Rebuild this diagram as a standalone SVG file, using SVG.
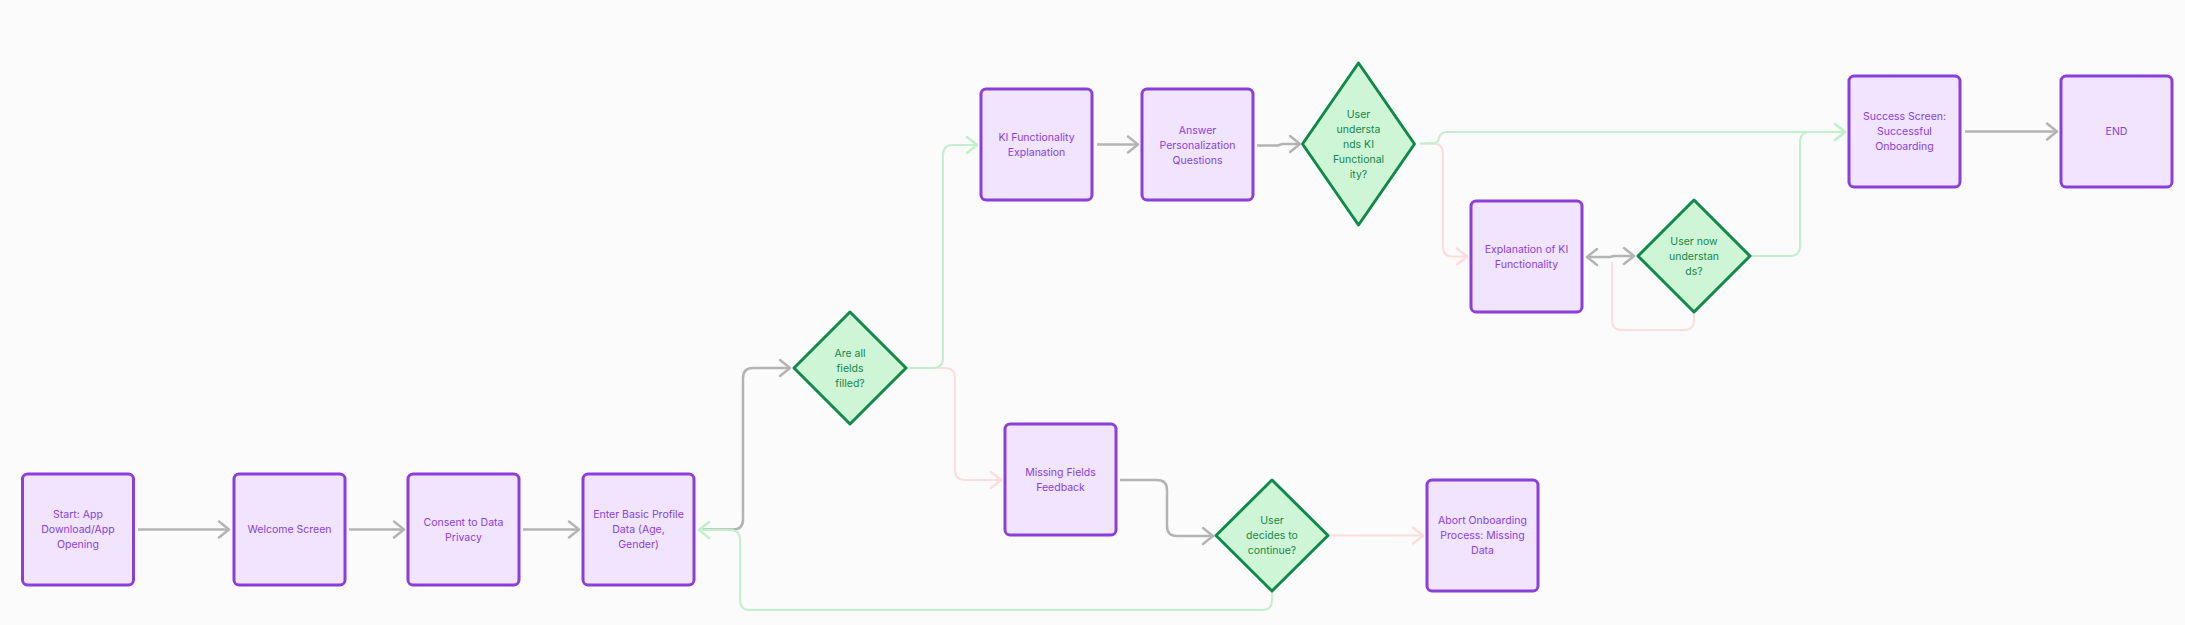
<svg xmlns="http://www.w3.org/2000/svg" width="2185" height="625" viewBox="0 0 2185 625">
<defs>
<style>
.box{fill:#f0e4fe;stroke:#8a3fdb;stroke-width:3}
.dia{fill:#cdf5d6;stroke:#108a4b;stroke-width:3;stroke-linejoin:round}
.bt{font-family:Inter,"Liberation Sans",sans-serif;font-size:10.5px;fill:#8a3fdb;text-anchor:middle;dominant-baseline:central}
.dt{font-family:Inter,"Liberation Sans",sans-serif;font-size:10.5px;fill:#16884a;text-anchor:middle;dominant-baseline:central}
.g{fill:none;stroke:#b4b4b4;stroke-width:2.5;marker-end:url(#ag)}
.gr{fill:none;stroke:#c2f0cd;stroke-width:2;marker-end:url(#agr)}
.pk{fill:none;stroke:#fddcdc;stroke-width:2;marker-end:url(#apk)}
</style>
<marker id="ag" viewBox="-12 -10 14 20" markerWidth="14" markerHeight="20" refX="0" refY="0" orient="auto-start-reverse" markerUnits="userSpaceOnUse"><path d="M-10,-8 L0,0 L-10,8" fill="none" stroke="#b4b4b4" stroke-width="2.5" stroke-linecap="round" stroke-linejoin="round"/></marker>
<marker id="agr" viewBox="-12 -10 14 20" markerWidth="14" markerHeight="20" refX="0" refY="0" orient="auto-start-reverse" markerUnits="userSpaceOnUse"><path d="M-10,-8 L0,0 L-10,8" fill="none" stroke="#c2f0cd" stroke-width="2.5" stroke-linecap="round" stroke-linejoin="round"/></marker>
<marker id="apk" viewBox="-12 -10 14 20" markerWidth="14" markerHeight="20" refX="0" refY="0" orient="auto-start-reverse" markerUnits="userSpaceOnUse"><path d="M-10,-8 L0,0 L-10,8" fill="none" stroke="#fddcdc" stroke-width="2.5" stroke-linecap="round" stroke-linejoin="round"/></marker>
</defs>
<rect x="0" y="0" width="2185" height="625" fill="#fbfbfb"/>

<g id="connectors">
<path class="g" d="M138,529.5 H229"/>
<path class="g" d="M349,529.5 H404"/>
<path class="g" d="M523,529.5 H579"/>
<path class="g" d="M699,529.5 H733 Q743,529.5 743,519.5 V378 Q743,368 753,368 H790"/>
<path class="gr" d="M1272,592 V600 Q1272,610 1262,610 H750 Q740,610 740,600 V540 Q740,530 730,530 H699"/>
<path class="pk" d="M906,368 H945 Q955,368 955,378 V470 Q955,480 965,480 H1001"/>
<path class="gr" d="M906,368 H933 Q943,368 943,358 V155 Q943,145 953,145 H977"/>
<path class="g" d="M1097,144.5 H1138"/>
<path class="g" d="M1257,145.5 H1278 L1282,144 H1300"/>
<path class="pk" d="M1420,143.5 H1433 Q1443,143.5 1443,153.5 V246.5 Q1443,256.5 1453,256.5 H1467"/>
<path class="gr" d="M1420,143.5 H1432 Q1438,143.5 1439,138 Q1440,132 1447,132 H1845"/>
<path class="pk" style="marker-end:none" d="M1694,312 V320 Q1694,330 1684,330 H1622 Q1612,330 1612,320 V262"/>
<path class="g" style="marker-start:url(#ag)" d="M1587,257 H1610 L1614,256 H1634"/>
<path class="gr" d="M1750,256 H1790 Q1800,256 1800,246 V142 Q1800,132 1810,132 H1845"/>
<path class="g" d="M1965,131.5 H2057"/>
<path class="g" d="M1120,480 H1157 Q1167,480 1167,490 V526 Q1167,536 1177,536 H1213"/>
<path class="pk" d="M1330,535.5 H1423"/>
</g>

<g id="start"><rect class="box" x="22.5" y="474" width="111" height="111" rx="5"/>
<text class="bt" x="78" y="514.5">Start: App</text><text class="bt" x="78" y="529.5">Download/App</text><text class="bt" x="78" y="544.5">Opening</text></g>
<g id="welcome"><rect class="box" x="234" y="474" width="111" height="111" rx="5"/>
<text class="bt" x="289.5" y="529.5">Welcome Screen</text></g>
<g id="consent"><rect class="box" x="408" y="474" width="111" height="111" rx="5"/>
<text class="bt" x="463.5" y="522">Consent to Data</text><text class="bt" x="463.5" y="537">Privacy</text></g>
<g id="enter"><rect class="box" x="583" y="474" width="111" height="111" rx="5"/>
<text class="bt" x="638.5" y="514.5">Enter Basic Profile</text><text class="bt" x="638.5" y="529.5">Data (Age,</text><text class="bt" x="638.5" y="544.5">Gender)</text></g>

<g id="fields-filled"><path class="dia" d="M850,312 L906,368 L850,424 L794,368 Z"/>
<text class="dt" x="850" y="353">Are all</text><text class="dt" x="850" y="368">fields</text><text class="dt" x="850" y="383">filled?</text></g>

<g id="ki-expl"><rect class="box" x="981" y="89" width="111" height="111" rx="5"/>
<text class="bt" x="1036.5" y="137.5">KI Functionality</text><text class="bt" x="1036.5" y="152.5">Explanation</text></g>
<g id="answer"><rect class="box" x="1142" y="89" width="111" height="111" rx="5"/>
<text class="bt" x="1197.5" y="130">Answer</text><text class="bt" x="1197.5" y="145">Personalization</text><text class="bt" x="1197.5" y="160">Questions</text></g>

<g id="understands"><path class="dia" d="M1358.5,63 L1414.5,144 L1358.5,225 L1302.5,144 Z"/>
<text class="dt" x="1358.5" y="114">User</text><text class="dt" x="1358.5" y="129">understa</text><text class="dt" x="1358.5" y="144">nds KI</text><text class="dt" x="1358.5" y="159">Functional</text><text class="dt" x="1358.5" y="174">ity?</text></g>

<g id="explanation"><rect class="box" x="1471" y="201" width="111" height="111" rx="5"/>
<text class="bt" x="1526.5" y="249">Explanation of KI</text><text class="bt" x="1526.5" y="264">Functionality</text></g>

<g id="now-understands"><path class="dia" d="M1694,200 L1750,256 L1694,312 L1638,256 Z"/>
<text class="dt" x="1694" y="241">User now</text><text class="dt" x="1694" y="256">understan</text><text class="dt" x="1694" y="271">ds?</text></g>

<g id="success"><rect class="box" x="1849" y="76" width="111" height="111" rx="5"/>
<text class="bt" x="1904.5" y="116.5">Success Screen:</text><text class="bt" x="1904.5" y="131.5">Successful</text><text class="bt" x="1904.5" y="146.5">Onboarding</text></g>
<g id="end"><rect class="box" x="2061" y="76" width="111" height="111" rx="5"/>
<text class="bt" x="2116.5" y="131.5">END</text></g>

<g id="missing"><rect class="box" x="1005" y="424" width="111" height="111" rx="5"/>
<text class="bt" x="1060.5" y="472">Missing Fields</text><text class="bt" x="1060.5" y="487">Feedback</text></g>

<g id="continue"><path class="dia" d="M1272,480 L1328,535.5 L1272,591 L1216,535.5 Z"/>
<text class="dt" x="1272" y="520.5">User</text><text class="dt" x="1272" y="535.5">decides to</text><text class="dt" x="1272" y="550.5">continue?</text></g>

<g id="abort"><rect class="box" x="1427" y="480" width="111" height="111" rx="5"/>
<text class="bt" x="1482.5" y="520.5">Abort Onboarding</text><text class="bt" x="1482.5" y="535.5">Process: Missing</text><text class="bt" x="1482.5" y="550.5">Data</text></g>
</svg>
